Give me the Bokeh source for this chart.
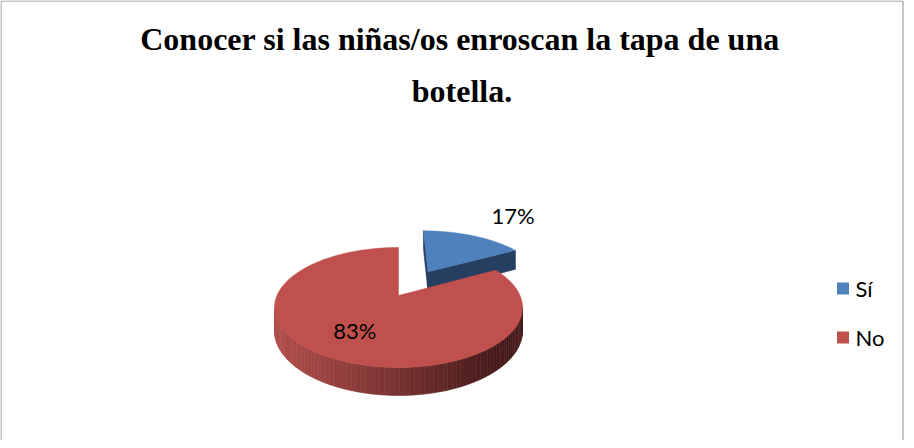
import numpy as np
from bokeh.plotting import figure
from bokeh.models import Range1d
from bokeh.core.properties import value
from bokeh.embed import file_html
from bokeh.resources import INLINE

# ---- data ----
categories = ["Sí", "No"]
values = [17, 83]
pct_labels = ["17%", "83%"]
explode = [0.52, 0.0]
title_lines = ["Conocer si las niñas/os enroscan la tapa de una", "botella."]

top_colors = ["#4F81BD", "#C0504D"]

# ---- figure in page-pixel coordinates ----
p = figure(width=906, height=440, x_range=Range1d(8, 914), y_range=Range1d(448, 8),
           output_backend="svg", toolbar_location=None, min_border=0,
           x_axis_type=None, y_axis_type=None)
p.grid.visible = False
p.outline_line_color = None
p.background_fill_color = "white"
p.border_fill_color = "white"

# chart frame (left, top, right)
p.line([8.5, 8.5, 910.5, 910.5], [448, 8.5, 8.5, 448], line_color="#8c8c8c", line_width=1)

# title
p.text(x=[467.5, 469.5], y=[46, 98.5], text=title_lines, text_align="center",
       text_baseline="middle", text_font=value("Liberation Serif"),
       text_font_style="bold", text_font_size="32px", text_color="black")

# ---- 3D pie projection ----
cx, cy = 406.0, 303.0
A, B, T, k = 121.5, 57.6, 22.4, 0.2
cam = np.array([0.0, -1.0 / k])


def proj(u, v, h=0.0):
    u = np.asarray(u, float)
    v = np.asarray(v, float)
    d = 1.0 + k * v
    return cx + A * u / d, cy - (B * v - T * h) / d


def lerp_col(c0, c1, t):
    t = min(max(t, 0.0), 1.0)
    c = [int(round(a + (b - a) * t)) for a, b in zip(c0, c1)]
    return "#%02x%02x%02x" % tuple(c)


total = float(sum(values))
angles = np.concatenate([[0.0], np.cumsum(values) / total * 360.0])


def add_slice(i):
    a0, a1 = np.radians(angles[i]), np.radians(angles[i + 1])
    mid = 0.5 * (a0 + a1)
    ou, ov = explode[i] * np.sin(mid), explode[i] * np.cos(mid)
    center = np.array([ou, ov])
    th = np.linspace(a0, a1, 160)
    ru, rv = ou + np.sin(th), ov + np.cos(th)
    xs_l, ys_l, cs_l = [], [], []
    # radial faces
    for ang, sgn in ((a0, -1), (a1, 1)):
        n = np.array([sgn * np.cos(ang), -sgn * np.sin(ang)])
        pm = center + 0.5 * np.array([np.sin(ang), np.cos(ang)])
        if np.dot(n, cam - pm) > 0:
            eu = [ou, ou + np.sin(ang), ou + np.sin(ang), ou]
            ev = [ov, ov + np.cos(ang), ov + np.cos(ang), ov]
            eh = [0, 0, 1, 1]
            xx, yy = proj(eu, ev, np.array(eh, float))
            xs_l.append(list(xx)); ys_l.append(list(yy))
            cs_l.append("#263e5f" if i == 0 else "#6e2c2b")
    # outer wall
    for j in range(len(th) - 1):
        tm = 0.5 * (th[j] + th[j + 1])
        n = np.array([np.sin(tm), np.cos(tm)])
        pm = np.array([ou + np.sin(tm), ov + np.cos(tm)])
        if np.dot(n, cam - pm) <= 0:
            continue
        uu = [ru[j], ru[j + 1], ru[j + 1], ru[j]]
        vv = [rv[j], rv[j + 1], rv[j + 1], rv[j]]
        hh = np.array([0, 0, 1, 1], float)
        xx, yy = proj(uu, vv, hh)
        xs_l.append(list(xx)); ys_l.append(list(yy))
        if i == 0:
            cs_l.append("#243c5c")
        else:
            t = (np.mean(xx) - 282.0) / (500.0 - 282.0)
            cs_l.append(lerp_col((178, 78, 75), (72, 28, 28), t))
    if xs_l:
        p.patches(xs_l, ys_l, fill_color=cs_l, line_color=cs_l, line_width=0.6)
    # top face
    tu = np.concatenate([[ou], ru, [ou]])
    tv = np.concatenate([[ov], rv, [ov]])
    tx, ty = proj(tu, tv)
    p.patch(list(tx), list(ty), fill_color=top_colors[i], line_color=top_colors[i], line_width=0.5)
    return mid, center


mids = []
for i in range(len(values)):
    mids.append(add_slice(i))

# data labels
mid0, c0 = mids[0]
bx, by = proj(c0[0] + np.sin(mid0), c0[1] + np.cos(mid0))
mid1, c1 = mids[1]
rx, ry = proj(c1[0] + 0.63 * np.sin(mid1), c1[1] + 0.63 * np.cos(mid1))
p.text(x=[float(bx) + 40, float(rx)], y=[float(by) - 20, float(ry)], text=pct_labels,
       text_align="center", text_baseline="middle", text_font=value("Lato"),
       text_font_size="22px", text_color="black")

# legend
leg_y = [296, 345]
p.rect(x=[850.5, 850.5], y=leg_y, width=12, height=12, fill_color=top_colors,
       line_color=None)
p.text(x=[863, 863], y=leg_y, text=categories, text_align="left", text_baseline="middle",
       text_font=value("Lato"), text_font_size="22px", text_color="black")

open("out.html", "w").write(file_html(p, INLINE))
